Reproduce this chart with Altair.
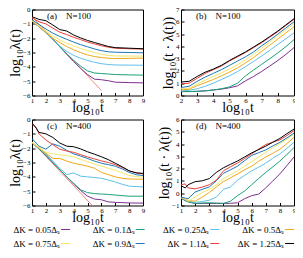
import altair as alt
import pandas as pd

LABELS = ["ΔK = 0.05Δₛ", "ΔK = 0.1Δₛ", "ΔK = 0.25Δₛ", "ΔK = 0.5Δₛ",
          "ΔK = 0.75Δₛ", "ΔK = 0.9Δₛ", "ΔK = 1.1Δₛ", "ΔK = 1.25Δₛ"]
COLORS = ["#7e2f8e", "#19a27a", "#5fbfea", "#f0a818", "#f2e66a", "#1f78b4", "#e8403a", "#000000"]
REF_COLOR = "#f4857a"

# ---- panel (a): N=100, log10 lambda(t)
XA = [1, 1.5, 2, 2.5, 3, 3.5, 4, 4.5, 5, 5.5, 6, 6.5, 7, 8, 9]
YA = {
    "ΔK = 0.05Δₛ": [-0.8, -1.2, -1.6, -2.1, -2.6, -3.12, -3.63, -4.1, -4.54, -4.86, -4.9, -4.97, -5.07, -5.1, -5.12],
    "ΔK = 0.1Δₛ": [-0.8, -1.2, -1.6, -2.1, -2.6, -3.08, -3.55, -3.95, -4.28, -4.43, -4.47, -4.5, -4.54, -4.56, -4.58],
    "ΔK = 0.25Δₛ": [-0.8, -1.2, -1.62, -2.1, -2.55, -2.92, -3.2, -3.4, -3.56, -3.68, -3.78, -3.84, -3.87, -3.88, -3.89],
    "ΔK = 0.5Δₛ": [-0.8, -1.2, -1.6, -2.0, -2.31, -2.58, -2.81, -3.0, -3.17, -3.28, -3.35, -3.4, -3.42, -3.41, -3.39],
    "ΔK = 0.75Δₛ": [-0.76, -1.15, -1.51, -1.85, -2.12, -2.35, -2.55, -2.72, -2.87, -3.0, -3.13, -3.2, -3.24, -3.25, -3.25],
    "ΔK = 0.9Δₛ": [-0.71, -1.05, -1.36, -1.65, -1.88, -2.08, -2.27, -2.45, -2.6, -2.75, -2.87, -2.95, -2.98, -3.0, -3.02],
    "ΔK = 1.1Δₛ": [-0.58, -0.86, -1.0, -1.3, -1.58, -1.75, -1.94, -2.1, -2.27, -2.4, -2.53, -2.63, -2.7, -2.74, -2.76],
    "ΔK = 1.25Δₛ": [-0.5, -0.69, -0.78, -1.08, -1.4, -1.5, -1.78, -1.98, -2.16, -2.3, -2.44, -2.58, -2.66, -2.7, -2.74],
}
REF_A_X = [1, 6]
REF_A_Y = [-0.5, -5.65]

# ---- panel (b): N=100, log10(t*lambda(t))
XB = [2, 2.5, 3, 3.5, 4, 4.5, 5, 5.5, 6, 6.5, 7, 7.5, 8, 8.5, 9]
YB = {
    "ΔK = 0.05Δₛ": [0.32, 0.32, 0.34, 0.38, 0.45, 0.52, 0.63, 0.78, 1.2, 1.55, 1.96, 2.4, 2.85, 3.35, 3.9],
    "ΔK = 0.1Δₛ": [0.32, 0.32, 0.34, 0.38, 0.45, 0.55, 0.7, 1.0, 1.6, 2.08, 2.54, 3.0, 3.47, 3.98, 4.55],
    "ΔK = 0.25Δₛ": [0.38, 0.42, 0.55, 0.75, 1.0, 1.3, 1.6, 1.95, 2.35, 2.78, 3.22, 3.68, 4.16, 4.62, 5.1],
    "ΔK = 0.5Δₛ": [0.45, 0.5, 0.8, 1.05, 1.3, 1.6, 1.9, 2.25, 2.65, 3.1, 3.6, 4.1, 4.6, 5.1, 5.6],
    "ΔK = 0.75Δₛ": [0.55, 0.6, 0.95, 1.25, 1.55, 1.85, 2.15, 2.5, 2.9, 3.35, 3.85, 4.35, 4.85, 5.35, 5.85],
    "ΔK = 0.9Δₛ": [0.65, 0.75, 1.15, 1.5, 1.8, 2.1, 2.45, 2.8, 3.15, 3.55, 4.05, 4.5, 5.0, 5.5, 6.0],
    "ΔK = 1.1Δₛ": [0.95, 1.0, 1.4, 1.8, 2.1, 2.4, 2.8, 3.15, 3.5, 3.9, 4.3, 4.75, 5.2, 5.7, 6.2],
    "ΔK = 1.25Δₛ": [1.1, 1.15, 1.55, 1.9, 2.15, 2.45, 2.85, 3.2, 3.55, 3.95, 4.35, 4.8, 5.25, 5.75, 6.25],
}

# ---- panel (c): N=400, log10 lambda(t)
XC = [1, 1.3, 1.5, 2, 2.5, 3, 3.5, 4, 4.5, 5, 5.5, 6, 6.5, 7, 7.5, 8, 8.5, 9]
YC = {
    "ΔK = 0.05Δₛ": [-1.6, -1.88, -2.05, -2.5, -3.0, -3.5, -4.0, -4.5, -4.95, -5.35, -5.55, -5.6, -5.75, -5.78, -5.8, -5.82, -5.83, -5.83],
    "ΔK = 0.1Δₛ": [-1.6, -1.88, -2.05, -2.5, -3.0, -3.5, -4.0, -4.45, -4.9, -5.1, -5.17, -5.2, -5.23, -5.27, -5.31, -5.35, -5.35, -5.35],
    "ΔK = 0.25Δₛ": [-1.6, -1.85, -2.0, -2.4, -2.9, -3.4, -3.84, -3.73, -3.95, -4.0, -4.05, -4.1, -4.22, -4.36, -4.52, -4.65, -4.68, -4.7],
    "ΔK = 0.5Δₛ": [-1.6, -1.85, -2.0, -2.35, -2.72, -2.72, -2.9, -3.05, -3.15, -3.26, -3.4, -3.69, -3.85, -4.0, -4.1, -4.15, -4.16, -4.17],
    "ΔK = 0.75Δₛ": [-1.6, -1.8, -1.95, -2.29, -2.4, -2.46, -2.52, -2.6, -2.78, -2.94, -3.1, -3.26, -3.4, -3.54, -3.72, -3.91, -3.98, -4.02],
    "ΔK = 0.9Δₛ": [-1.32, -1.65, -1.86, -2.07, -1.7, -1.86, -2.15, -2.4, -2.55, -2.72, -2.9, -3.05, -3.15, -3.26, -3.45, -3.69, -3.85, -3.91],
    "ΔK = 1.1Δₛ": [-0.3, -0.55, -1.0, -1.43, -1.75, -2.07, -2.2, -2.29, -2.45, -2.61, -2.75, -2.89, -3.0, -3.15, -3.35, -3.58, -3.72, -3.8],
    "ΔK = 1.25Δₛ": [-0.25, -0.6, -0.9, -1.0, -1.25, -1.64, -1.86, -1.9, -2.05, -2.25, -2.42, -2.6, -2.8, -3.05, -3.3, -3.58, -3.72, -3.76],
}
REF_C_X = [1, 5.35]
REF_C_Y = [-1.55, -6.0]

# ---- panel (d): N=400, log10(t*lambda(t))
XD = XC
YD = {
    "ΔK = 0.05Δₛ": [-0.4, -0.6, -0.7, -0.83, -0.83, -0.83, -0.83, -0.83, -0.82, -0.78, -0.45, -0.2, -0.07, 0.43, 1.0, 1.57, 2.25, 2.95],
    "ΔK = 0.1Δₛ": [-0.4, -0.6, -0.7, -0.83, -0.8, -0.78, -0.8, -0.83, -0.65, -0.2, 0.18, 0.69, 1.2, 1.69, 2.15, 2.62, 3.15, 3.71],
    "ΔK = 0.25Δₛ": [-0.35, -0.55, -0.65, -0.75, -0.68, -0.57, -0.32, 0.31, 0.51, 1.06, 1.45, 1.82, 2.12, 2.45, 2.85, 3.2, 3.65, 4.14],
    "ΔK = 0.5Δₛ": [-0.35, -0.5, -0.6, -0.65, -0.32, 0.06, 0.51, 0.94, 1.25, 1.57, 1.9, 2.2, 2.6, 2.95, 3.25, 3.58, 4.05, 4.54],
    "ΔK = 0.75Δₛ": [-0.32, -0.5, -0.65, -0.32, 0.06, 0.31, 0.69, 1.19, 1.5, 1.82, 2.2, 2.57, 2.95, 3.33, 3.7, 4.04, 4.4, 4.79],
    "ΔK = 0.9Δₛ": [-0.32, -0.4, -0.45, 0.1, 0.31, 0.51, 1.01, 1.62, 1.9, 2.2, 2.65, 3.08, 3.3, 3.53, 3.85, 4.14, 4.5, 4.89],
    "ΔK = 1.1Δₛ": [0.69, 0.76, 0.43, 0.36, 0.5, 0.69, 1.06, 1.82, 2.15, 2.45, 2.82, 3.2, 3.6, 3.96, 4.15, 4.34, 4.7, 5.09],
    "ΔK = 1.25Δₛ": [0.61, 0.43, 0.69, 0.94, 1.01, 1.19, 1.69, 2.07, 2.35, 2.62, 2.95, 3.28, 3.55, 3.83, 4.15, 4.46, 4.85, 5.22],
}

SERIF = "Liberation Serif"
COLOR_SCALE = alt.Scale(domain=LABELS, range=COLORS)
GAP = "\u00a0\u00a0\u00a0\u00a0"
PANEL_H = 86


def long_df(xs, ys):
    rows = []
    for k, lab in enumerate(LABELS):
        for x, y in zip(xs, ys[lab]):
            rows.append({"x": x, "y": y, "series": lab, "k": k})
    return pd.DataFrame(rows)


def panel(xs, ys, xdom, ydom, ytitle, tag, width, ref=None):
    xaxis = alt.Axis(values=list(range(int(xdom[0]), int(xdom[1]) + 1)), title="log₁₀t",
                     offset=-3, tickSize=3, labelPadding=1, titlePadding=-3, titleFontSize=14,
                     labelOverlap=False, labelFlush=False)
    yaxis = alt.Axis(values=list(range(int(ydom[0]), int(ydom[1]) + 1)), title=ytitle,
                     offset=-3, tickSize=3, labelPadding=2, titlePadding=0, titleFontSize=14,
                     labelOverlap=False, labelFlush=False)
    xscale = alt.Scale(domain=xdom, nice=False, zero=False)
    yscale = alt.Scale(domain=ydom, nice=False, zero=False)
    xenc = alt.X("x:Q", scale=xscale, axis=xaxis)
    yenc = alt.Y("y:Q", scale=yscale, axis=yaxis)
    layers = []
    if ref is not None:
        rdf = pd.DataFrame({"x": ref[0], "y": ref[1]})
        layers.append(alt.Chart(rdf).mark_line(color=REF_COLOR, strokeWidth=1, clip=True)
                      .encode(x=xenc, y=yenc))
    layers.append(
        alt.Chart(long_df(xs, ys)).mark_line(strokeWidth=1, clip=True).encode(
            x=xenc, y=yenc,
            color=alt.Color("series:N", scale=COLOR_SCALE, legend=None),
            detail="k:O",
        )
    )
    # panel tag anchored at the top-left corner of the axis domain
    layers.append(
        alt.Chart().mark_text(align="left", baseline="alphabetic", dx=15, dy=9, font=SERIF,
                              fontSize=9, color="black")
        .encode(x=alt.XDatum(xdom[0], scale=xscale, axis=xaxis),
                y=alt.YDatum(ydom[1], scale=yscale, axis=yaxis),
                text=alt.value(tag))
    )
    return alt.layer(*layers).properties(width=width, height=PANEL_H)


pa = panel(XA, YA, [1, 9], [-6, 0], "log₁₀λ(t)", "(a)" + GAP + "N=100", 111, (REF_A_X, REF_A_Y))
pb = panel(XB, YB, [2, 9], [0, 7], "log₁₀(t · λ(t))", "(b)" + GAP + "N=100", 113)
pc = panel(XC, YC, [1, 9], [-6, 0], "log₁₀λ(t)", "(c)" + GAP + "N=400", 111, (REF_C_X, REF_C_Y))
pd_ = panel(XD, YD, [1, 9], [-1, 6], "log₁₀(t · λ(t))", "(d)" + GAP + "N=400", 113)

leg = pd.DataFrame({"label": LABELS,
                    "col": [i % 4 for i in range(len(LABELS))],
                    "row": [i // 4 for i in range(len(LABELS))]})
leg["col_end"] = leg["col"] + 0.12
# legend panel is 111 px wide; its four columns (~74.7 px apart) spill to the right
lx = alt.X("col:Q", scale=alt.Scale(domain=[-0.388, 1.098], nice=False, zero=False), axis=None)
ly = alt.Y("row:Q", scale=alt.Scale(domain=[0, 1], nice=False, zero=False, reverse=True), axis=None)
legend_text = alt.Chart(leg).mark_text(align="right", baseline="middle", dx=-1, font=SERIF,
                                       fontSize=9, color="black").encode(x=lx, y=ly, text="label:N")
legend_rule = alt.Chart(leg).mark_rule(strokeWidth=1).encode(
    x=lx, x2="col_end:Q", y=ly, color=alt.Color("label:N", scale=COLOR_SCALE, legend=None))
legend_chart = alt.layer(legend_text, legend_rule).properties(
    width=111, height=14, view=alt.ViewBackground(stroke="transparent"))

chart = alt.concat(
    pa, pb, pc, pd_, legend_chart,
    columns=2, spacing={"row": 24, "column": 38}, bounds="flush",
).properties(
    padding={"left": 0, "top": -3.5, "right": -2, "bottom": -1},
    background="white",
).configure_view(stroke="black", strokeWidth=1).configure_axis(
    labelFont=SERIF, labelFontSize=7, labelColor="black", tickColor="black",
    domain=False, grid=False, titleFont=SERIF, titleFontWeight="normal",
    titleColor="black",
)

chart.save("out.html", embed_options={"renderer": "svg", "actions": False})
